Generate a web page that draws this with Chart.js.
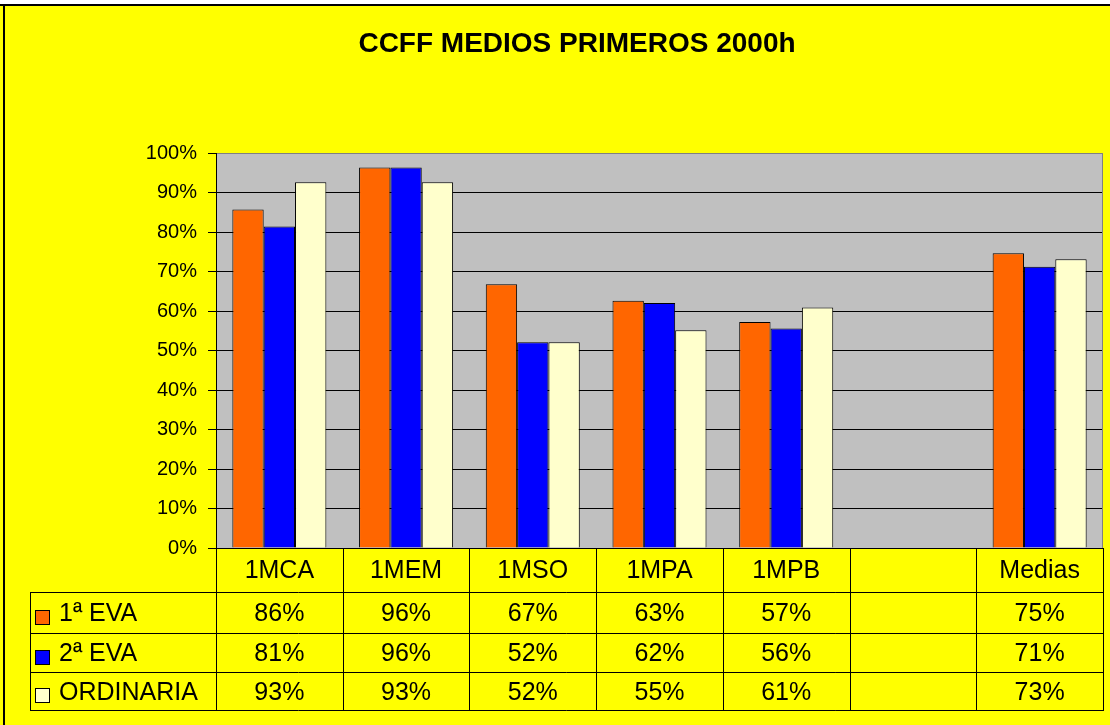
<!DOCTYPE html>
<html><head><meta charset="utf-8">
<script src="https://cdn.jsdelivr.net/npm/chart.js@4.4.1/dist/chart.umd.min.js"></script>
<style>html,body{margin:0;padding:0;background:#fff;overflow:hidden}</style>
</head><body>
<canvas id="c" width="1110" height="725"></canvas>
<script>
const chartTitle = 'CCFF MEDIOS PRIMEROS 2000h';
const categories = ['1MCA', '1MEM', '1MSO', '1MPA', '1MPB', '', 'Medias'];
const seriesNames = ['1ª EVA', '2ª EVA', 'ORDINARIA'];
const eva1 = [0.857, 0.963, 0.668, 0.626, 0.572, null, 0.746];
const eva2 = [0.814, 0.963, 0.521, 0.620, 0.556, null, 0.712];
const ordinaria = [0.926, 0.926, 0.521, 0.551, 0.609, null, 0.731];
const yTickLabels = ['0%', '10%', '20%', '30%', '40%', '50%', '60%', '70%', '80%', '90%', '100%'];
const seriesColors = ['#FF6600', '#0000FF', '#FFFFCC'];

const FONT = '"Liberation Sans", Arial, sans-serif';
Chart.defaults.font.family = FONT;
Chart.defaults.color = '#000';

const bgPlugin = {
  id: 'bg',
  beforeDraw(chart) {
    const { ctx, chartArea: a, width, height } = chart;
    ctx.save();
    ctx.fillStyle = '#FFFFFF';
    ctx.fillRect(0, 0, width, height);
    ctx.fillStyle = '#FFFF00';
    ctx.fillRect(0, 4, width, height - 4);
    ctx.fillStyle = '#C0C0C0';
    ctx.fillRect(a.left, a.top, a.right - a.left, a.bottom - a.top);
    ctx.restore();
  },
  beforeDatasetsDraw(chart) {
    const { ctx, chartArea: a } = chart;
    ctx.save();
    ctx.strokeStyle = '#808080';
    ctx.lineWidth = 1;
    ctx.beginPath();
    ctx.moveTo(Math.round(a.right) - 0.5, a.top);
    ctx.lineTo(Math.round(a.right) - 0.5, a.bottom);
    ctx.stroke();
    ctx.restore();
  },
  afterDraw(chart) {
    const { ctx, width, height } = chart;
    ctx.save();
    ctx.fillStyle = '#000';
    ctx.fillRect(0, 4, width, 2);
    ctx.fillRect(3, 4, 2, height - 4);
    ctx.restore();
  }
};

const tablePlugin = {
  id: 'dataTable',
  afterDraw(chart) {
    const { ctx, chartArea: a, scales: { x } } = chart;
    const n = chart.data.labels.length;
    const cw = (a.right - a.left) / n;
    const top = Math.round(a.bottom);
    const rowsY = [top + 44, top + 85, top + 124, top + 162];
    const tableLeft = 30;
    ctx.save();
    ctx.strokeStyle = '#000';
    ctx.lineWidth = 1;
    ctx.beginPath();
    rowsY.forEach(y => { ctx.moveTo(tableLeft, y + 0.5); ctx.lineTo(Math.round(a.right) + 0.5, y + 0.5); });
    ctx.moveTo(tableLeft + 0.5, rowsY[0]); ctx.lineTo(tableLeft + 0.5, rowsY[3] + 1);
    for (let i = 0; i <= n; i++) {
      const xx = Math.round(a.left + i * cw) + 0.5;
      ctx.moveTo(xx, top); ctx.lineTo(xx, rowsY[3] + 1);
    }
    ctx.stroke();
    ctx.font = '25px ' + FONT;
    ctx.textBaseline = 'middle';
    chart.data.datasets.forEach((ds, r) => {
      const cy = (rowsY[r] + rowsY[r + 1]) / 2 + 2;
      ctx.fillStyle = ds.backgroundColor;
      ctx.fillRect(35, Math.round(cy) - 5, 15, 15);
      ctx.strokeStyle = '#000';
      ctx.strokeRect(35.5, Math.round(cy) - 4.5, 14, 14);
      ctx.fillStyle = '#000';
      ctx.textAlign = 'left';
      ctx.fillText(ds.label, 59, cy);
      ctx.textAlign = 'center';
      ds.data.forEach((v, i) => {
        if (v == null) return;
        ctx.fillText(Math.round(v * 100) + '%', x.getPixelForValue(i), cy);
      });
    });
    ctx.restore();
  }
};

const allSeries = [eva1, eva2, ordinaria];
new Chart(document.getElementById('c'), {
  type: 'bar',
  data: {
    labels: categories,
    datasets: allSeries.map((d, i) => ({
      label: seriesNames[i],
      data: d,
      backgroundColor: seriesColors[i],
      borderColor: '#000',
      borderWidth: 1,
      borderSkipped: 'start',
      categoryPercentage: 0.742,
      barPercentage: 1.0
    }))
  },
  options: {
    responsive: false,
    animation: false,
    devicePixelRatio: 1,
    layout: { padding: { left: 51, right: 7, top: 0, bottom: 0 } },
    plugins: {
      legend: { display: false },
      tooltip: { enabled: false },
      title: {
        display: true,
        text: chartTitle,
        color: '#000',
        font: { size: 28, weight: 'bold', family: FONT },
        padding: { top: 27, bottom: 92.4 }
      }
    },
    scales: {
      x: {
        grid: { display: false, drawTicks: false },
        border: { display: true, color: '#000', width: 1 },
        ticks: { font: { size: 25 }, color: '#000', padding: 8, autoSkip: false, maxRotation: 0 },
        afterFit(scale) { scale.height = 177; }
      },
      y: {
        min: 0,
        max: 1,
        grid: {
          color: (c) => (c.tick && c.tick.value >= 0.999 ? '#808080' : '#000'),
          tickColor: '#000',
          drawTicks: true,
          tickLength: 8,
          lineWidth: 1
        },
        border: { display: true, color: '#000', width: 1 },
        ticks: {
          stepSize: 0.1,
          font: { size: 20 },
          color: '#000',
          padding: 11,
          callback: (v, i) => yTickLabels[i]
        },
        afterFit(scale) { scale.width = 165; }
      }
    }
  },
  plugins: [bgPlugin, tablePlugin]
});
</script>
</body></html>
